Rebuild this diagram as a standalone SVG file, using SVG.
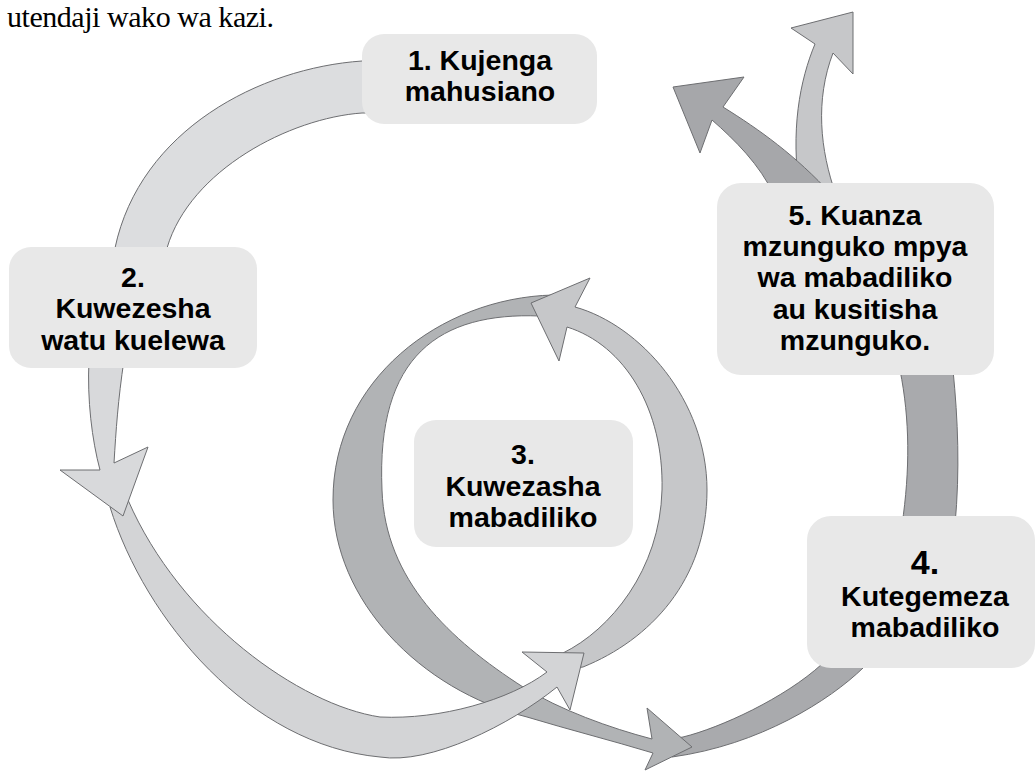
<svg xmlns="http://www.w3.org/2000/svg" width="1035" height="771" viewBox="0 0 1035 771">
<style>
.box{fill:#e8e8e8;}
.t{font-family:"Liberation Sans",Arial,sans-serif;font-weight:bold;font-size:28.5px;fill:#000;text-anchor:middle;}
.big{font-size:34px;}
.hdr{font-family:"Liberation Serif","Times New Roman",serif;font-size:30px;fill:#000;}
.ar{stroke:#6d6e71;stroke-width:1;stroke-linejoin:miter;}
.l1{fill:#dcdddf;}
.l2{fill:#d3d4d6;}
.l3{fill:#d8d9db;}
.m1{fill:#c6c7c9;}
.d1{fill:#b1b3b5;}
.d2{fill:#a9aaad;}
.d3{fill:#a6a7aa;}
</style>
<rect width="1035" height="771" fill="#ffffff"/>
<text class="hdr" x="7" y="27" textLength="267" lengthAdjust="spacing">utendaji wako wa kazi.</text>
<g id="connectors">
  <path id="c-d4" class="ar d2" d="M665,740 L683,737 C720,728 785,698 822,664 L840,640 L885,640 L863,668 C830,700 760,745 672,757 Z"/>
  <path id="c-45" class="ar d2" d="M900,370 C910,420 910,470 902,525 L955,525 C960,470 958,420 953,370 Z"/>
  <path id="c-5up" class="ar m1" d="M853,12 L791,28 L815,44 C800,80 790,130 800,195 L836,195 C820,150 815,100 833,53 L853,74 Z"/>
  <path id="c-5left" class="ar d3" d="M673,87 L744,77 L723,107 C760,130 795,155 832,195 L774,195 C760,165 735,140 712,120 L700,153 Z"/>
  <path id="c-3dark" class="ar d1" d="M565,295 L553,295 C440,298 333,380 333,500 C333,600 420,690 527,717 C570,730 610,740 653,753 L645,770 L692,747 L647,708 L652,739 C610,728 560,710 523,687 C450,640 385,580 382,490 C376,355 440,312 540,316 L562,314 Z"/>
  <path id="c-3light" class="ar m1" d="M575,307 C640,325 707,400 707,490 C707,580 650,640 583,667 L560,670 L558,658 L563,653 C610,630 660,570 662,490 C664,410 625,345 567,327 L559,361 L531,303 L590,278 Z"/>
  <path id="c-lower" class="ar l2" d="M110,507 C145,620 250,745 380,757 C430,765 510,725 557,687 L570,710 L584,653 L522,652 L547,672 C510,700 440,720 380,717 C300,705 180,620 128,500 Z"/>
  <path id="c-2down" class="ar l3" d="M89,360 C87,400 92,440 100,470 L60,470 L123,516 L148,447 L114,463 C116,430 118,400 124,360 Z"/>
  <path id="c-12" class="ar l1" d="M380,61 L362,61 C260,68 140,130 115,248 L115,262 L167,262 L167,248 C190,170 290,118 362,113 L380,113 Z"/>
</g>
<g id="node1">
  <rect class="box" x="362" y="34" width="235" height="90" rx="22"/>
  <text class="t" x="480" y="70">1. Kujenga</text>
  <text class="t" x="480" y="101">mahusiano</text>
</g>
<g id="node2">
  <rect class="box" x="9" y="247" width="248" height="121" rx="22"/>
  <text class="t" x="133" y="287">2.</text>
  <text class="t" x="133" y="318">Kuwezesha</text>
  <text class="t" x="133" y="350">watu kuelewa</text>
</g>
<g id="node3">
  <rect class="box" x="414" y="420" width="219" height="127" rx="22"/>
  <text class="t" x="523" y="464">3.</text>
  <text class="t" x="523" y="496">Kuwezasha</text>
  <text class="t" x="523" y="527">mabadiliko</text>
</g>
<g id="node4">
  <rect class="box" x="807" y="516" width="228" height="152" rx="24"/>
  <text class="t big" x="925" y="574">4.</text>
  <text class="t" x="925" y="606">Kutegemeza</text>
  <text class="t" x="925" y="637">mabadiliko</text>
</g>
<g id="node5">
  <rect class="box" x="717" y="183" width="277" height="192" rx="24"/>
  <text class="t" x="855" y="225">5. Kuanza</text>
  <text class="t" x="855" y="256">mzunguko mpya</text>
  <text class="t" x="855" y="287">wa mabadiliko</text>
  <text class="t" x="855" y="319">au kusitisha</text>
  <text class="t" x="855" y="350">mzunguko.</text>
</g>
</svg>
